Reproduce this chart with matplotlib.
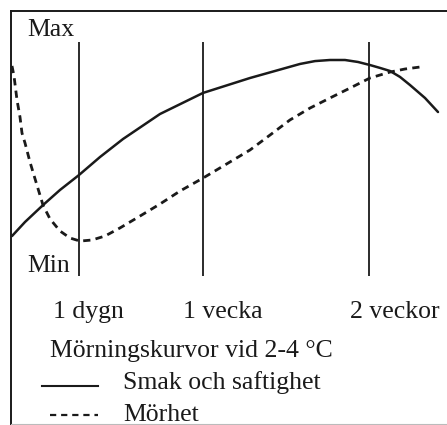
import matplotlib.pyplot as plt

# schematic time axis (position along the scan) and quality (0 = Min, 100 = Max)
smak_t = [12, 25, 43, 60, 79, 100, 123, 160, 203, 250, 275, 300, 315, 330, 345, 358, 370,
          380, 390, 400, 410, 425, 438]
smak_q = [2.2, 10.0, 19.4, 27.8, 36.1, 46.1, 56.1, 70.0, 81.7, 90.0, 93.9, 97.8, 99.4, 100.0,
          100.0, 98.9, 97.2, 95.6, 93.9, 90.6, 86.1, 78.9, 71.1]

mor_t = [12, 14, 17, 20, 22, 25, 30, 36, 43, 50, 60, 70, 80, 92, 105, 120, 140, 160, 180,
         203, 225, 250, 270, 290, 310, 330, 350, 370, 390, 405, 420]
mor_q = [96.7, 91.1, 77.8, 68.3, 59.4, 53.9, 43.3, 32.2, 19.4, 11.7, 5.0, 1.1, -0.6, 0.0, 2.2,
         6.7, 13.3, 20.0, 27.2, 34.4, 41.7, 50.0, 58.3, 66.7, 73.3, 78.9, 84.4, 90.0, 93.3,
         95.0, 96.1]

tid_t = [79, 203, 369]
tid_labels = ["1 dygn", "1 vecka", "2 veckor"]

titel = "Mörningskurvor vid 2-4 °C"
serie_namn = ["Smak och saftighet", "Mörhet"]

W, H = 447, 425
ink = "#1a1a1a"
plt.rcParams['font.family'] = ['Liberation Serif', 'DejaVu Serif']
fs = 18.5

fig = plt.figure(figsize=(W / 100, H / 100), dpi=100)
ax = fig.add_axes([0, 0, 1, 1])
ax.set_xlim(0, W)
# pixel y = 240 - 1.8*q
ax.set_ylim((240 - H) / 1.8, 240 / 1.8)
ax.axis('off')


def px(x, y):
    return x / W, 1 - y / H


# frame (left and top only)
fig.add_artist(plt.Line2D([11 / W, 11 / W], [0, 1 - 11 / H], color=ink, lw=1.4))
fig.add_artist(plt.Line2D([11 / W, 1], [1 - 11 / H, 1 - 11 / H], color=ink, lw=1.4))
fig.add_artist(plt.Line2D([11 / W, 1], [1 - 424 / H, 1 - 424 / H], color="#bbbbbb", lw=0.8))

ax.vlines(tid_t, (240 - 276) / 1.8, (240 - 42) / 1.8, color=ink, lw=1.3)
ax.plot(smak_t, smak_q, color=ink, lw=1.8, solid_capstyle='round', solid_joinstyle='round')
ax.plot(mor_t, mor_q, color=ink, lw=2.0, dashes=(2.6, 1.9))

fig.text(*px(27, 36), "Max", fontsize=fs, color=ink, ha='left', va='baseline')
fig.text(*px(27, 272), "Min", fontsize=fs, color=ink, ha='left', va='baseline')

for x, lab in zip([53, 183, 350], tid_labels):
    fig.text(*px(x, 318), lab, fontsize=fs, color=ink, ha='left', va='baseline')

fig.text(*px(50, 357), titel, fontsize=fs, color=ink, ha='left', va='baseline')

fig.add_artist(plt.Line2D([42 / W, 98 / W], [1 - 386 / H] * 2, color=ink, lw=1.5))
fig.add_artist(plt.Line2D([50 / W, 98 / W], [1 - 415 / H] * 2, color=ink, lw=1.6,
                          dashes=(2.8, 2.2)))
fig.text(*px(123, 389), serie_namn[0], fontsize=fs, color=ink, ha='left', va='baseline')
fig.text(*px(123, 421), serie_namn[1], fontsize=fs, color=ink, ha='left', va='baseline')

fig.savefig("out.png", dpi=100)
